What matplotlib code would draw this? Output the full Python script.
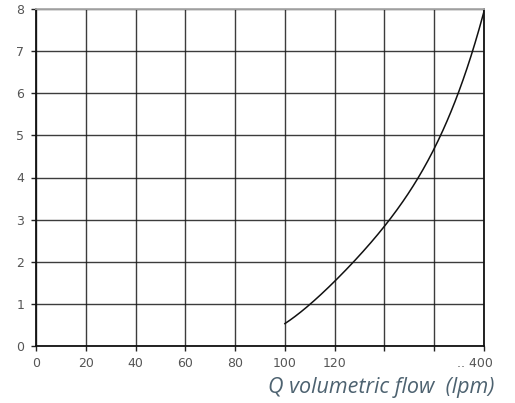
import matplotlib
matplotlib.use("Agg")
import matplotlib.pyplot as plt
import matplotlib.transforms as mtransforms
import numpy as np

# Data
flow = [100, 110, 120, 130, 140, 148, 155, 161.9, 166, 169.9, 173, 175.5, 178, 180]
dp = [0.52, 1.02, 1.51, 2.16, 2.83, 3.47, 4.12, 5.0, 5.5, 6.0, 6.5, 7.0, 7.5, 8.0]

xticks = [0, 20, 40, 60, 80, 100, 120, 140, 160, 180]
xticklabels = ["0", "20", "40", "60", "80", "100", "120", "", "", ".. 400"]
yticks = [0, 1, 2, 3, 4, 5, 6, 7, 8]
xlabel = "Q volumetric flow  (lpm)"

fig = plt.figure(figsize=(5.15, 4.03), dpi=100)
ax = fig.add_axes([36/515, 1-346/403, (484-36)/515, (346-9)/403])

xs = np.linspace(flow[0], flow[-1], 200)
coef = np.polyfit(flow, dp, 4)
ax.plot(xs, np.polyval(coef, xs), color="#111111", lw=1.1, zorder=3)

ax.set_xlim(0, 180)
ax.set_ylim(0, 8)
ax.set_xticks(xticks)
ax.set_xticklabels(xticklabels)
ax.set_yticks(yticks)
ax.grid(True, color="#1a1a1a", lw=1.0, alpha=0.85)
ax.set_axisbelow(True)

for s in ["left", "bottom", "right"]:
    ax.spines[s].set_color("#111111")
    ax.spines[s].set_linewidth(1.3)
ax.spines["top"].set_color("#aaaaaa")
ax.spines["top"].set_linewidth(1.3)

ax.tick_params(axis="both", direction="out", length=3.6, width=1.0, color="#222222",
               labelcolor="#555555", labelsize=9)
ax.tick_params(axis="x", pad=4)
ax.tick_params(axis="y", pad=5)

# shift the last label left a bit like the reference
last = ax.get_xticklabels()[-1]
last.set_transform(last.get_transform() + mtransforms.ScaledTranslation(-9/100, 0, fig.dpi_scale_trans))

fig.text(494/515, (403-393)/403, xlabel, fontsize=15.5, style="italic", color="#4d6270",
         family=["Open Sans", "DejaVu Sans"], ha="right", va="baseline")

fig.savefig("out.png", dpi=100)
